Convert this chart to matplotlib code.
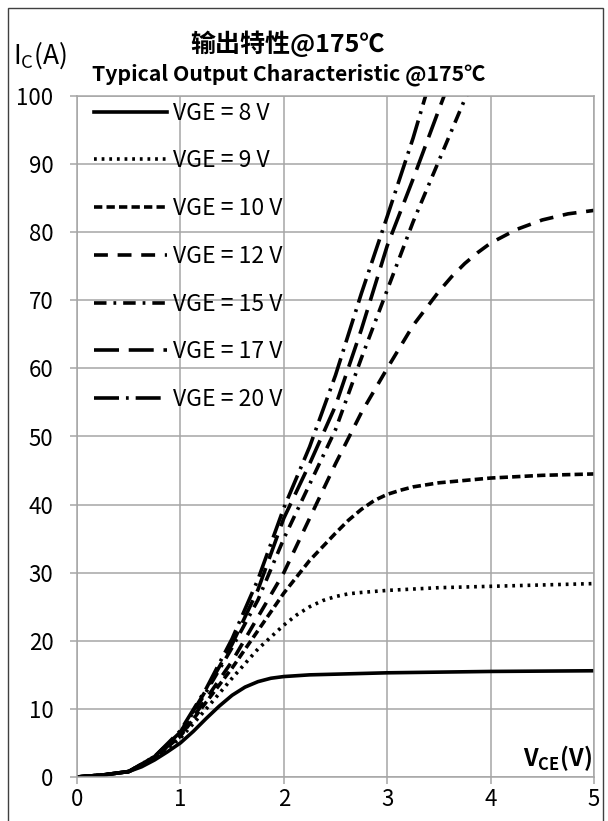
import numpy as np
import matplotlib
matplotlib.use("Agg")
import matplotlib.pyplot as plt
from matplotlib.patches import Rectangle

plt.rcParams['font.family'] = ['Noto Sans CJK SC', 'DejaVu Sans']
plt.rcParams['mathtext.fontset'] = 'custom'
plt.rcParams['mathtext.rm'] = 'Noto Sans CJK SC'
plt.rcParams['mathtext.bf'] = 'Noto Sans CJK SC:bold'
plt.rcParams['lines.scale_dashes'] = False

# data (VCE in V, IC in A)
x8 = [0, 0.25, 0.5, 0.625, 0.75, 0.875, 1, 1.125, 1.25, 1.375, 1.5, 1.625, 1.75, 1.875, 2, 2.25, 2.5, 3, 3.5, 4, 4.5, 5]
y8 = [0, 0.3, 0.8, 1.5, 2.5, 3.7, 5.0, 6.7, 8.6, 10.4, 12.0, 13.2, 14.0, 14.5, 14.75, 15.0, 15.1, 15.3, 15.4, 15.5, 15.55, 15.6]

x9 = [0, 0.25, 0.5, 0.75, 1, 1.25, 1.5, 1.75, 2, 2.125, 2.25, 2.375, 2.5, 2.625, 2.75, 3, 3.5, 4, 4.5, 5]
y9 = [0, 0.3, 0.8, 2.7, 5.7, 10.0, 14.5, 18.8, 22.3, 23.8, 25.0, 25.9, 26.5, 26.9, 27.1, 27.4, 27.8, 28.0, 28.2, 28.4]

x10 = [0, 0.25, 0.5, 0.75, 1, 1.25, 1.5, 1.75, 2, 2.25, 2.5, 2.625, 2.75, 2.875, 3, 3.125, 3.25, 3.5, 4, 4.5, 5]
y10 = [0, 0.3, 0.8, 2.8, 6.0, 11.0, 16.0, 21.5, 27.0, 31.8, 35.8, 37.7, 39.3, 40.6, 41.5, 42.1, 42.6, 43.2, 43.9, 44.3, 44.5]

x12 = [0, 0.25, 0.5, 0.75, 1, 1.25, 1.5, 1.75, 2, 2.25, 2.5, 2.75, 3, 3.25, 3.5, 3.625, 3.75, 3.875, 4, 4.25, 4.5, 4.75, 5]
y12 = [0, 0.3, 0.8, 2.8, 6.2, 11.5, 17.0, 23.5, 30.0, 38.0, 46.0, 53.5, 60.0, 66.3, 71.3, 73.5, 75.4, 77.0, 78.4, 80.4, 81.8, 82.7, 83.2]

x15 = [0, 0.25, 0.5, 0.75, 1, 1.25, 1.5, 1.75, 2, 2.25, 2.5, 2.75, 3, 3.25, 3.5, 3.75, 3.8]
y15 = [0, 0.3, 0.8, 3.0, 6.5, 12.5, 19.0, 26.0, 35.0, 43.0, 51.0, 61.5, 71.5, 81.5, 90.5, 99.5, 101]

x17 = [0, 0.25, 0.5, 0.75, 1, 1.25, 1.5, 1.75, 2, 2.25, 2.5, 2.75, 3, 3.25, 3.5, 3.6]
y17 = [0, 0.3, 0.8, 3.0, 6.6, 12.8, 19.5, 27.5, 38.0, 46.0, 54.5, 65.7, 78.0, 87.8, 98.0, 102]

x20 = [0, 0.25, 0.5, 0.75, 1, 1.25, 1.5, 1.75, 2, 2.25, 2.5, 2.75, 3, 3.25, 3.4]
y20 = [0, 0.3, 0.8, 3.0, 6.8, 13.0, 20.3, 29.0, 39.5, 48.5, 59.0, 71.0, 82.3, 93.8, 101.5]

labels = ['VGE = 8 V', 'VGE = 9 V', 'VGE = 10 V', 'VGE = 12 V',
          'VGE = 15 V', 'VGE = 17 V', 'VGE = 20 V']

series = [(x8, y8), (x9, y9), (x10, y10), (x12, y12), (x15, y15), (x17, y17), (x20, y20)]
styles = ['-', (0, (2, 3.5)), (0, (6, 3)), (0, (10, 7)),
          (0, (9, 5, 2, 5)), (0, (18, 7)), (0, (18, 5, 2, 5))]

fig = plt.figure(figsize=(6.08, 8.21), dpi=100)
ax = fig.add_axes([77/608, 1 - 777/821, (594 - 77)/608, (777 - 96)/821])

for (xs, ys), ls, lab in zip(series, styles, labels):
    ax.plot(xs, ys, color='black', linestyle=ls, linewidth=2.6, label=lab)

ax.set_xlim(0, 5)
ax.set_ylim(0, 100)
ax.set_xticks(np.arange(0, 6, 1))
ax.set_yticks(np.arange(0, 101, 10))
ax.grid(True, color='#a6a6a6', linewidth=1.1)
ax.set_axisbelow(True)
for s in ax.spines.values():
    s.set_color('#a6a6a6')
    s.set_linewidth(1.1)
ax.tick_params(axis='both', color='#a6a6a6', length=5, width=1.1, labelsize=16)
ax.tick_params(axis='y', pad=12)
ax.tick_params(axis='x', pad=3)

ax.legend(loc='upper left', bbox_to_anchor=(0.022, 1), frameon=False, fontsize=16.5,
          handlelength=3.2, handletextpad=0.25, labelspacing=1.08,
          borderaxespad=0.0, borderpad=0.25)

ax.text(4.98, 0.6, r'$\mathbf{V_{CE}}$' + '(V)', ha='right', va='bottom',
        fontsize=17, fontweight='bold')
fig.text(40/608, 1 - 55/821, r'$\mathrm{I_C}$' + '(A)', ha='center', va='center',
         fontsize=19, fontweight='medium')

fig.text(0.472, 1 - 44/821, '输出特性@175℃', ha='center', va='center',
         fontsize=18, fontweight='bold')
fig.text(0.474, 1 - 75/821, 'Typical Output Characteristic @175℃', ha='center',
         va='center', fontsize=15.3, fontweight='bold')

fig.patches.append(Rectangle((8/608, -0.01), (603 - 8)/608, 1.01 - 8/821,
                             transform=fig.transFigure, fill=False,
                             edgecolor='#404040', linewidth=1.0))

fig.savefig('out.png', dpi=100)
